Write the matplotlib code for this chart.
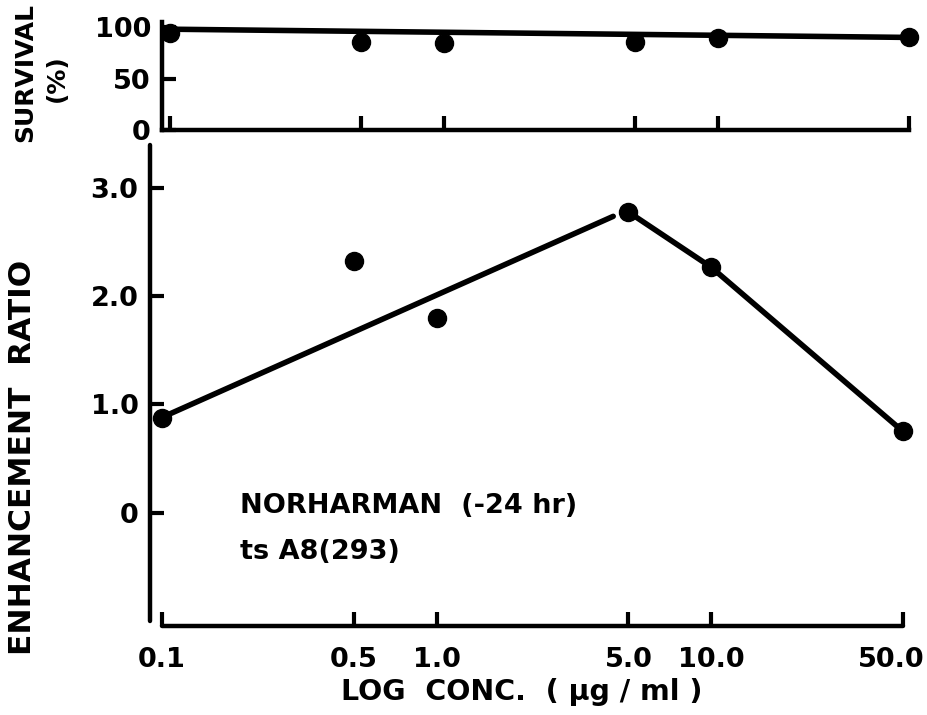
import matplotlib
matplotlib.use("Agg")
import matplotlib.pyplot as plt
from matplotlib.transforms import ScaledTranslation

# ---- data ----
conc = [0.1, 0.5, 1.0, 5.0, 10.0, 50.0]
survival = [94, 86, 85, 86, 89, 90]
survival_fit_x = [0.1, 50.0]
survival_fit_y = [98, 90]
enhancement = [0.87, 2.33, 1.80, 2.78, 2.27, 0.75]
rise_x = [0.1, 4.4]
rise_y = [0.88, 2.74]
fall_x = [5.0, 10.0, 50.0]
fall_y = [2.78, 2.27, 0.75]
xticks = [0.1, 0.5, 1.0, 5.0, 10.0, 50.0]
xticklabels = ["0.1", "0.5", "1.0", "5.0", "10.0", "50.0"]
er_ticks = [0, 1.0, 2.0, 3.0]
er_ticklabels = ["0", "1.0", "2.0", "3.0"]
surv_ticks = [0, 50, 100]
surv_ticklabels = ["0", "50", "100"]

plt.rcParams["font.family"] = ["DejaVu Sans"]
plt.rcParams["font.weight"] = "bold"

W, H = 927, 715
fig = plt.figure(figsize=(W / 100, H / 100), dpi=100)

def rect(l, t, r, b):
    return [l / W, 1 - b / H, (r - l) / W, (b - t) / H]

LW = 3.2
MS = 13
FS = 19.5

# ---- bottom panel ----
ax = fig.add_axes(rect(162, 145, 903, 626))
ax.set_xscale("log")
ax.set_xlim(0.1, 50)
ax.set_ylim(-1.05, 3.4)
ax.plot(rise_x, rise_y, color="black", lw=4, solid_capstyle="round", clip_on=False)
ax.plot(fall_x, fall_y, color="black", lw=4, solid_capstyle="round", clip_on=False)
ax.plot(conc, enhancement, "o", color="black", ms=MS, clip_on=False)
for s in ["top", "right"]:
    ax.spines[s].set_visible(False)
ax.spines["left"].set_position(("outward", 9))
ax.spines["left"].set_bounds(-1.0, 3.4)
ax.spines["bottom"].set_bounds(0.1, 50)
for s in ["left", "bottom"]:
    ax.spines[s].set_linewidth(LW)
    ax.spines[s].set_capstyle("round")
ax.set_xticks(xticks)
ax.set_xticklabels(xticklabels)
ax.xaxis.set_minor_locator(matplotlib.ticker.NullLocator())
ax.set_yticks(er_ticks)
ax.set_yticklabels(er_ticklabels)
ax.tick_params(axis="both", direction="in", length=10, width=3, labelsize=FS)
ax.tick_params(axis="x", pad=15)
ax.tick_params(axis="y", pad=8)
ax.patch.set_visible(False)
last = ax.get_xticklabels()[-1]
last.set_transform(last.get_transform() + ScaledTranslation(-12 / 100, 0, fig.dpi_scale_trans))

ax.text(240 / W, 1 - 506 / H, "NORHARMAN  (-24 hr)", transform=fig.transFigure,
        fontsize=19.5, fontweight="bold", ha="left", va="center")
ax.text(240 / W, 1 - 552 / H, "ts A8(293)", transform=fig.transFigure,
        fontsize=19.5, fontweight="bold", ha="left", va="center")

# ---- top panel ----
xl = 0.1 * 10 ** (-8 / 273.8)
ax2 = fig.add_axes(rect(162, 22, 909, 130))
ax2.set_xscale("log")
ax2.set_xlim(xl, 50)
ax2.set_ylim(0, 105)
ax2.plot(survival_fit_x, survival_fit_y, color="black", lw=4, clip_on=False)
ax2.plot(conc, survival, "o", color="black", ms=MS, clip_on=False)
for s in ["top", "right"]:
    ax2.spines[s].set_visible(False)
for s in ["left", "bottom"]:
    ax2.spines[s].set_linewidth(LW)
ax2.set_xticks(xticks)
ax2.set_xticklabels([])
ax2.xaxis.set_minor_locator(matplotlib.ticker.NullLocator())
ax2.set_yticks(surv_ticks)
ax2.set_yticklabels(surv_ticklabels)
ax2.tick_params(axis="both", direction="in", length=10, width=3, labelsize=FS)
ax2.tick_params(axis="y", pad=8)
ax2.patch.set_visible(False)

# ---- axis titles ----
fig.text(522 / W, 1 - 692 / H, "LOG  CONC.  ( \u03bcg / ml )", fontsize=20.5,
         fontweight="bold", ha="center", va="center")
fig.text(23 / W, 1 - 457 / H, "ENHANCEMENT  RATIO", fontsize=22.5, fontweight="bold",
         rotation=90, ha="center", va="center")
fig.text(25 / W, 1 - 73 / H, "SURVIVAL", fontsize=18, fontweight="bold",
         rotation=90, ha="center", va="center")
fig.text(57 / W, 1 - 78 / H, "(%)", fontsize=18, fontweight="bold",
         rotation=90, ha="center", va="center")

fig.savefig("out.png", dpi=100)
